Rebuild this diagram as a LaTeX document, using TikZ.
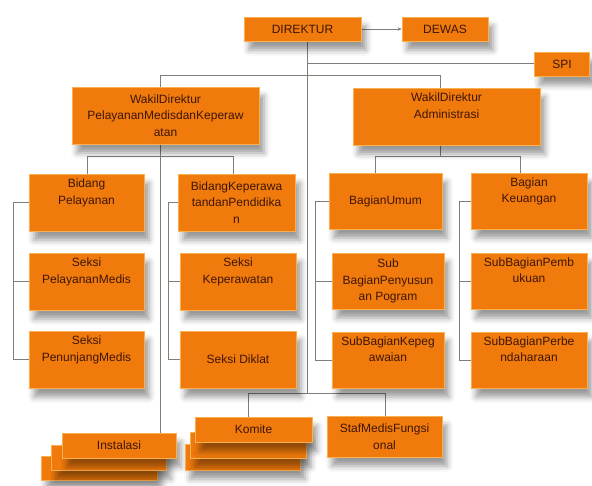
\documentclass[tikz,border=0pt]{standalone}
\usepackage{fontspec}
\setmainfont{Liberation Sans}
\usetikzlibrary{shadows.blur,arrows.meta,calc,backgrounds}
\definecolor{boxfill}{HTML}{F07A0C}
\definecolor{boxedge}{HTML}{F8B050}
\definecolor{txtcol}{HTML}{3E1606}
\definecolor{linecol}{HTML}{7E8078}
\tikzset{
  box/.style={rectangle, fill=boxfill, draw=boxedge, line width=0.7pt, text=txtcol,
    align=center, font=\fontsize{12}{16.5}\selectfont, inner sep=1pt,
    blur shadow={shadow xshift=5pt, shadow yshift=-9pt, shadow blur radius=6pt, shadow opacity=40}},
  conn/.style={draw=linecol, line width=0.9pt},
}
\begin{document}
\begin{tikzpicture}[x=1pt,y=-1pt]
\path[use as bounding box] (0,0) rectangle (592,485);
\coordinate (tr1) at (307,63);
\coordinate (trb) at (307,393);
\coordinate (barL) at (160,75);
\coordinate (barR) at (440,75);
\coordinate (h1L) at (87,156);
\coordinate (h1R) at (233,156);
\coordinate (h2L) at (375,156);
\coordinate (h2R) at (520,156);
\coordinate (hbL) at (248,393);
\coordinate (hbR) at (385,393);

% boxes
\node[box, minimum width=117pt, minimum height=24pt] (dir) at (302.5,29) {DIREKTUR};
\node[box, minimum width=86pt, minimum height=24pt] (dewas) at (445,29) {DEWAS};
\node[box, minimum width=55pt, minimum height=24pt] (spi) at (562,64) {SPI};
\node[box, minimum width=187pt, minimum height=57pt] (w1) at (165.5,115.5) {WakilDirektur\\PelayananMedisdanKeperaw\\atan};
\node[box, minimum width=187pt, minimum height=57pt] (w2) at (446.5,116.5) {WakilDirektur\\Administrasi\\\strut};

\node[box, minimum width=115pt, minimum height=57pt] (bp) at (86.5,202.5) {Bidang\\Pelayanan\\\strut};
\node[box, minimum width=117pt, minimum height=57pt] (bk) at (236.5,202.5) {BidangKeperawa\\tandanPendidika\\n};
\node[box, minimum width=115pt, minimum height=57pt] (spm) at (86.5,281.5) {Seksi\\PelayananMedis\\\strut};
\node[box, minimum width=116pt, minimum height=57pt] (sk) at (238,281.5) {Seksi\\Keperawatan\\\strut};
\node[box, minimum width=115pt, minimum height=57pt] (spn) at (86.5,359.5) {Seksi\\PenunjangMedis\\\strut};
\node[box, minimum width=116pt, minimum height=57pt] (sd) at (238,359.5) {Seksi Diklat};

\node[box, minimum width=113pt, minimum height=56pt] (bu) at (385.5,201) {BagianUmum};
\node[box, minimum width=116pt, minimum height=56pt] (bkeu) at (529,201) {Bagian\\Keuangan\\\strut};
\node[box, minimum width=112pt, minimum height=56pt] (sbp) at (388,281) {Sub\\BagianPenyusun\\an Pogram};
\node[box, minimum width=116pt, minimum height=56pt] (sbpem) at (529,281) {SubBagianPemb\\ukuan\\\strut};
\node[box, minimum width=112pt, minimum height=56pt] (sbkep) at (388,360) {SubBagianKepeg\\awaian\\\strut};
\node[box, minimum width=116pt, minimum height=56pt] (sbper) at (529,360) {SubBagianPerbe\\ndaharaan\\\strut};

\node[box, minimum width=116pt, minimum height=24pt] (inst3) at (99,468) {};
\node[box, minimum width=115pt, minimum height=25pt] (inst2) at (108.5,457.5) {};
\node[box, minimum width=114pt, minimum height=25pt] (inst) at (119,445.5) {Instalasi};

\node[box, minimum width=115pt, minimum height=26pt] (kom3) at (242.5,457) {};
\node[box, minimum width=116pt, minimum height=26pt] (kom2) at (248,445) {};
\node[box, minimum width=117pt, minimum height=25pt] (kom) at (253.5,429.5) {Komite};

\node[box, minimum width=115pt, minimum height=41pt] (staf) at (384.5,436.5) {StafMedisFungsi\\onal};

% connectors
\begin{scope}[on background layer]
\draw[conn] (dir.south -| tr1) -- (trb);
\draw[conn, -{Stealth[length=4pt,width=3.5pt]}] (dir.east) -- (dewas.west);
\draw[conn] (tr1) -- (tr1 -| spi.west);
\draw[conn] (barL) -- (barR);
\draw[conn] (barL) -- (barL |- w1.north);
\draw[conn] (barR) -- (barR |- w2.north);
\draw[conn] (barL |- w1.south) -- (barL |- inst.north);
\draw[conn] (h1L) -- (h1R);
\draw[conn] (h1L) -- (h1L |- bp.north);
\draw[conn] (h1R) -- (h1R |- bk.north);
\draw[conn] (barR |- w2.south) -- (barR |- h2L);
\draw[conn] (h2L) -- (h2R);
\draw[conn] (h2L) -- (h2L |- bu.north);
\draw[conn] (h2R) -- (h2R |- bkeu.north);
\coordinate (brA) at ($(bp.west)+(-15,0)$);
\draw[conn] (bp.west) -- (brA) |- (spn.west);
\draw[conn] (spm.west) -- (spm.west -| brA);
\coordinate (brB) at ($(bk.west)+(-9,0)$);
\draw[conn] (bk.west) -- (brB) |- (sd.west);
\draw[conn] (sk.west) -- (sk.west -| brB);
\coordinate (brC) at ($(bu.west)+(-13,0)$);
\draw[conn] (bu.west) -- (brC) |- (sbkep.west);
\draw[conn] (sbp.west) -- (sbp.west -| brC);
\coordinate (brD) at ($(bkeu.west)+(-11,0)$);
\draw[conn] (bkeu.west) -- (brD) |- (sbper.west);
\draw[conn] (sbpem.west) -- (sbpem.west -| brD);
\draw[conn] (hbL) -- (hbR);
\draw[conn] (hbL) -- (hbL |- kom.north);
\draw[conn] (hbR) -- (hbR |- staf.north);
\end{scope}
\end{tikzpicture}
\end{document}
